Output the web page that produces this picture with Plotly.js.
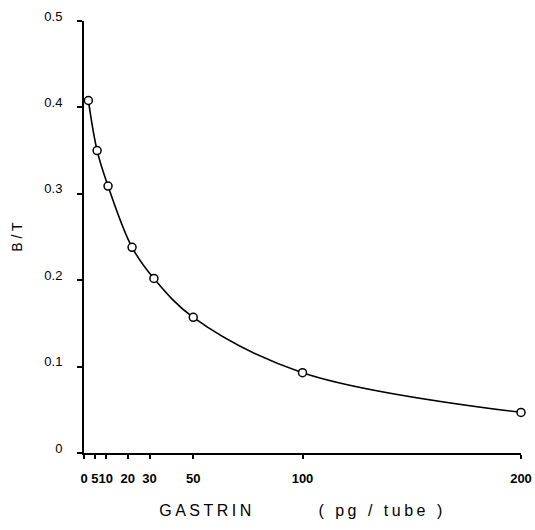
<!DOCTYPE html>
<html>
<head>
<meta charset="utf-8">
<script src="https://cdn.plot.ly/plotly-3.0.1.min.js"></script>
<style>html,body{margin:0;padding:0;background:#fff;}</style>
</head>
<body>
<div id="chart" style="width:535px;height:530px;"></div>
<script>
var gastrin = [2, 6, 11, 22, 32, 50, 100, 200];
var boundRatio = [0.408, 0.350, 0.309, 0.238, 0.202, 0.157, 0.093, 0.047];
var xTickVals = [0, 5, 10, 20, 30, 50, 100, 200];
var xTickText = ["0", "5", "10", "20", "30", "50", "100", "200"];
var yTickVals = [0, 0.1, 0.2, 0.3, 0.4, 0.5];
var yTickText = ["0", "0.1", "0.2", "0.3", "0.4", "0.5"];

var trace = {
  x: gastrin,
  y: boundRatio,
  type: "scatter",
  mode: "lines+markers",
  line: {color: "#000", width: 1.6, shape: "spline", smoothing: 1},
  marker: {symbol: "circle", size: 8, color: "#fff", line: {color: "#000", width: 1.5}},
  cliponaxis: false,
  hoverinfo: "skip"
};

var layout = {
  width: 535,
  height: 530,
  margin: {l: 84, r: 14, t: 21, b: 77},
  paper_bgcolor: "#fff",
  plot_bgcolor: "#fff",
  showlegend: false,
  font: {family: "Liberation Sans, Arial, sans-serif", color: "#000"},
  xaxis: {
    range: [0, 200],
    tickvals: xTickVals,
    ticktext: xTickText,
    tickangle: 0,
    ticks: "outside",
    ticklen: 4,
    tickwidth: 2,
    tickcolor: "#000",
    showline: true,
    linecolor: "#000",
    linewidth: 2,
    showgrid: false,
    zeroline: false,
    ticklabelstandoff: 8,
    tickfont: {size: 13, weight: "bold", color: "#000"},
    title: {text: "GASTRIN\u00A0\u00A0\u00A0\u00A0\u00A0\u00A0\u00A0\u00A0( pg / tube )", font: {size: 16, color: "#000"}, standoff: 20}
  },
  yaxis: {
    range: [0, 0.5],
    tickvals: yTickVals,
    ticktext: yTickText,
    ticks: "outside",
    ticklen: 5,
    tickwidth: 2,
    tickcolor: "#000",
    showline: true,
    linecolor: "#000",
    linewidth: 2,
    showgrid: false,
    zeroline: false,
    ticklabelstandoff: 12,
    ticklabelshift: -5,
    tickfont: {size: 13, color: "#000"},
    title: {text: "B / T", font: {size: 14, color: "#000"}, standoff: 18}
  }
};

Plotly.newPlot("chart", [trace], layout, {displayModeBar: false, staticPlot: true}).then(function () {
  var t = document.querySelector(".xtitle");
  if (t) { t.style.letterSpacing = "3.5px"; }
});
</script>
</body>
</html>
